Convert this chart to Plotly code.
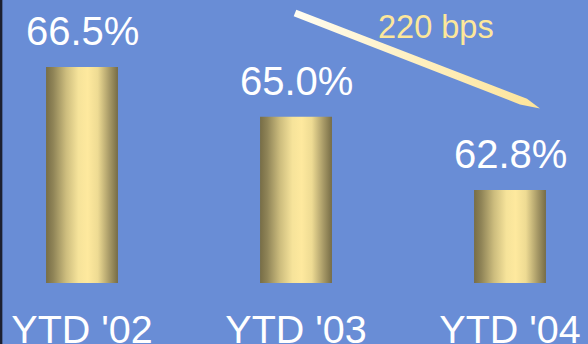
import plotly.graph_objects as go

# --- data ---
periods = ["YTD '02", "YTD '03", "YTD '04"]
ratios = [66.5, 65.0, 62.8]          # percent
value_labels = ["66.5%", "65.0%", "62.8%"]
change_label = "220 bps"

BASE = 60.0          # value at the x axis line
Y_TOP = 68.516       # top of the value axis
BAR_W = 0.336        # bar width in category units

BG = "#698dd6"
FONT = "Liberation Sans, Arial, sans-serif"

bar_scale = [
    [0.00, "#776d46"],
    [0.10, "#8f8457"],
    [0.28, "#cdbd7e"],
    [0.45, "#f6e39a"],
    [0.58, "#fee99e"],
    [0.72, "#eedb93"],
    [0.88, "#a89a67"],
    [1.00, "#766c46"],
]

fig = go.Figure()

# gold cylinder-style bars: one filled shape per bar with a horizontal gradient
for i, v in enumerate(ratios):
    x0, x1 = i - BAR_W / 2, i + BAR_W / 2
    fig.add_trace(go.Scatter(
        x=[x0, x1, x1, x0, x0],
        y=[BASE, BASE, v, v, BASE],
        mode="lines",
        line=dict(width=0, color="rgba(0,0,0,0)"),
        fill="toself",
        fillgradient=dict(type="horizontal", colorscale=bar_scale),
        hoverinfo="skip",
        showlegend=False,
    ))
    fig.add_annotation(
        x=i, y=v, xref="x", yref="y",
        text=value_labels[i], showarrow=False,
        yanchor="bottom", yshift=12,
        font=dict(family=FONT, size=40, color="white"),
    )

# decorative downward pointer across the top (pixel-like overlay axes)
ax_x = [296.3, 527.0, 540.0, 520.0, 293.7, 296.3]
ax_y = [9.7, 98.8, 108.5, 104.4, 16.3, 9.7]
fig.add_trace(go.Scatter(
    x=ax_x, y=ax_y, xaxis="x2", yaxis="y2",
    mode="lines",
    line=dict(width=0, color="rgba(0,0,0,0)"),
    fill="toself",
    fillgradient=dict(type="horizontal",
                      colorscale=[[0, "#fffdf2"], [0.5, "#fff0c0"], [1, "#fde49a"]]),
    hoverinfo="skip",
    showlegend=False,
))
fig.add_annotation(
    x=436, y=27, xref="x2", yref="y2",
    text=change_label, showarrow=False,
    xanchor="center", yanchor="middle",
    font=dict(family=FONT, size=32.5, color="#fde79a"),
)

# thin dark edge on the left
fig.add_shape(type="rect", xref="paper", yref="paper",
              x0=0, x1=0.004, y0=-0.3, y1=1.0,
              line=dict(width=0), fillcolor="#1c2030", layer="above")

fig.update_layout(
    width=588, height=344,
    margin=dict(l=0, r=0, t=0, b=61, pad=0),
    paper_bgcolor=BG, plot_bgcolor=BG,
    showlegend=False,
    xaxis=dict(
        range=[-0.3832, 2.3645],
        tickmode="array", tickvals=list(range(len(periods))), ticktext=periods,
        tickfont=dict(family=FONT, size=39.5, color="white"),
        showgrid=False, zeroline=False, showline=False, ticks="",
        ticklabelstandoff=19, automargin=False, fixedrange=True,
    ),
    yaxis=dict(
        range=[BASE, Y_TOP], visible=False, showgrid=False,
        zeroline=False, automargin=False, fixedrange=True,
    ),
    xaxis2=dict(range=[0, 588], overlaying="x", visible=False, fixedrange=True),
    yaxis2=dict(range=[283, 0], overlaying="y", visible=False, fixedrange=True),
)

fig.write_html("out.html")
